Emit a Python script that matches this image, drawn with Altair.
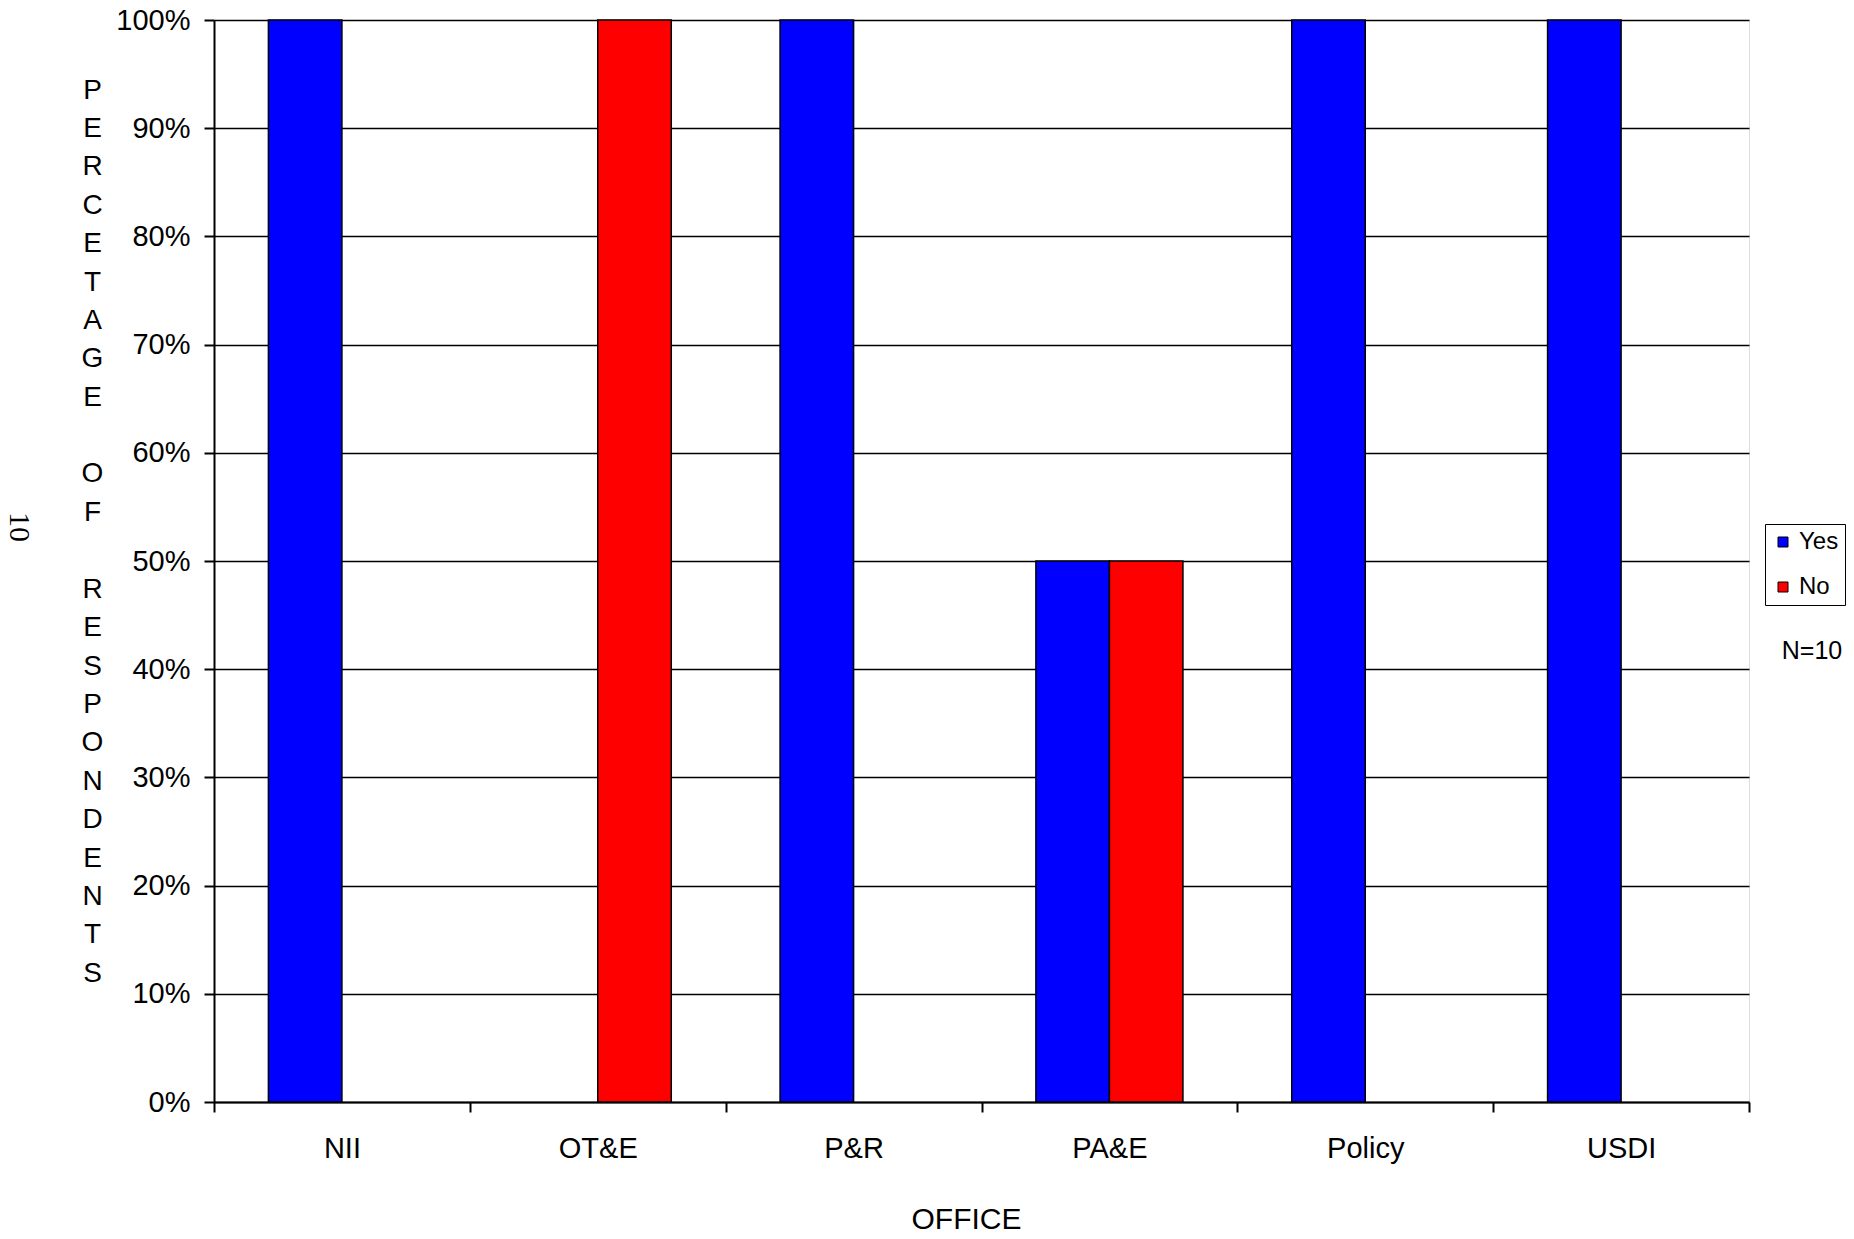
import altair as alt
import pandas as pd

offices = ["NII", "OT&E", "P&R", "PA&E", "Policy", "USDI"]
yes_vals = [1.0, 0.0, 1.0, 0.5, 1.0, 1.0]
no_vals = [0.0, 1.0, 0.0, 0.5, 0.0, 0.0]
responses = ["Yes", "No"]
colors = ["#0000FF", "#FF0000"]
y_ticks = [0, 0.1, 0.2, 0.3, 0.4, 0.5, 0.6, 0.7, 0.8, 0.9, 1.0]
BL = "\u200b"
y_title = ["P", "E", "R", "C", "E", "T", "A", "G", "E", BL, "O", "F", BL,
           "R", "E", "S", "P", "O", "N", "D", "E", "N", "T", "S"]

rows = []
for o, yv, nv in zip(offices, yes_vals, no_vals):
    rows.append({"office": o, "response": "Yes", "value": yv})
    rows.append({"office": o, "response": "No", "value": nv})
df = pd.DataFrame(rows)
df = df[df["value"] > 0]

FONT = "Liberation Sans"

bars = alt.Chart(df).mark_bar(stroke="black", strokeWidth=1.5).encode(
    x=alt.X("office:N", sort=offices,
            scale=alt.Scale(paddingInner=0, paddingOuter=0),
            axis=alt.Axis(title="OFFICE", labelAngle=0, labelFontSize=29,
                          labelFont=FONT, labelColor="black",
                          tickBand="extent", tickSize=10, tickColor="black",
                          tickWidth=2, domainColor="black", domainWidth=2,
                          labelPadding=22,
                          titleFont=FONT, titleFontSize=30, titleFontWeight="normal",
                          titleColor="black", titleX=752, titleY=117,
                          titleBaseline="middle", titleAnchor="start", titleAlign="center")),
    xOffset=alt.XOffset("response:N", sort=responses,
                        scale=alt.Scale(domain=responses, paddingInner=0, paddingOuter=0.74)),
    y=alt.Y("value:Q",
            scale=alt.Scale(domain=[0, 1], nice=False),
            axis=alt.Axis(values=y_ticks, format=".0%", labelFontSize=29,
                          labelFont=FONT, labelColor="black",
                          tickSize=10, tickColor="black", tickWidth=2,
                          domainColor="black", domainWidth=2,
                          grid=True, gridColor="black", gridWidth=1.4, gridOpacity=1,
                          labelPadding=14,
                          title=y_title, titleAngle=0, titleAlign="center",
                          titleBaseline="middle", titleX=-122, titleY=70,
                          titleLineHeight=38.4, titleFont=FONT, titleFontSize=28,
                          titleFontWeight="normal", titleColor="black")),
    color=alt.Color("response:N", sort=responses,
                    scale=alt.Scale(domain=responses, range=colors),
                    legend=alt.Legend(title=None, orient="none", legendX=1551, legendY=504,
                                      symbolType="square", symbolSize=100,
                                      symbolStrokeColor="black", symbolStrokeWidth=1,
                                      labelFont=FONT, labelFontSize=24, labelColor="black",
                                      labelOffset=4, rowPadding=21, padding=6,
                                      strokeColor="black", fillColor="white")),
)

n_text = alt.Chart(pd.DataFrame({"t": ["N=10"]})).mark_text(
    font=FONT, fontSize=25, color="black", align="center", baseline="middle"
).encode(text="t:N", x=alt.value(1598), y=alt.value(631))

page_num = alt.Chart(pd.DataFrame({"t": ["10"]})).mark_text(
    font="Liberation Serif", fontSize=30, color="black", align="center",
    baseline="middle", angle=90
).encode(text="t:N", x=alt.value(-195), y=alt.value(507))

chart = alt.layer(bars, n_text, page_num).properties(
    width=1535, height=1082,
    autosize=alt.AutoSizeParams(type="none"),
    padding={"left": 206, "top": 12, "right": 97, "bottom": 128},
).configure_view(stroke="black", strokeWidth=2).configure(background="white")

chart.save("out.html", embed_options={"renderer": "svg", "actions": False})
